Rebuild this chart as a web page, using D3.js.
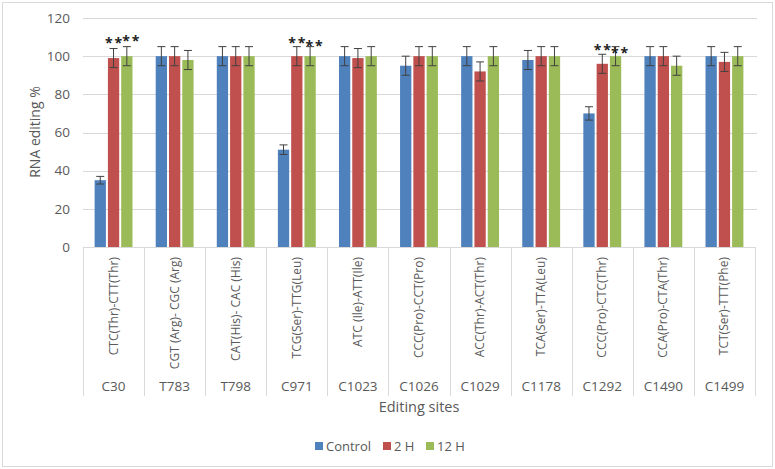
<!DOCTYPE html>
<html><head><meta charset="utf-8">
<script src="https://cdn.jsdelivr.net/npm/d3@7"></script>
<style>body{margin:0;background:#fff}svg{display:block}text{font-family:"Open Sans",Calibri,sans-serif;fill:#595959}</style>
</head><body><svg id="c" width="775" height="469"></svg>
<script>
const sites = ["C30","T783","T798","C971","C1023","C1026","C1029","C1178","C1292","C1490","C1499"];
const codons = ["CTC(Thr)-CTT(Thr)","CGT (Arg)- CGC (Arg)","CAT(His)- CAC (His)","TCG(Ser)-TTG(Leu)","ATC (Ile)-ATT(Ile)","CCC(Pro)-CCT(Pro)","ACC(Thr)-ACT(Thr)","TCA(Ser)-TTA(Leu)","CCC(Pro)-CTC(Thr)","CCA(Pro)-CTA(Thr)","TCT(Ser)-TTT(Phe)"];
const seriesNames = ["Control","2 H","12 H"];
const control = [35,100,100,51,100,95,100,98,70,100,100];
const h2 = [99,100,100,100,99,100,92,100,96,100,97];
const h12 = [100,98,100,100,100,100,100,100,100,95,100];
const controlErr = [2,5,5,2.5,5,5,5,5,3.5,5,5];
const h2Err = [5,5,5,5,5,5,5,5,5,5,5];
const h12Err = [5,5,5,5,5,5,5,5,5,5,5];
const yTicks = [0,20,40,60,80,100,120];
// significance marks: [site, series, y value of mark]
const stars = [["C30","2 H",108.4],["C30","12 H",109.5],["C971","2 H",108.4],["C971","12 H",106.8],["C1292","2 H",104.7],["C1292","12 H",103.1]];

const colors = ["#4f81bd","#c0504d","#9bbb59"];
const values = [control,h2,h12], errs=[controlErr,h2Err,h12Err];

const svg = d3.select("#c");
svg.append("rect").attr("x",2.5).attr("y",2.5).attr("width",770).attr("height",464).attr("fill","#fff").attr("stroke","#d9d9d9");

const L=83,R=755,T=18,B=247;
const x0 = d3.scaleBand().domain(sites).range([L,R]).paddingInner(0).paddingOuter(0);
const cw = x0.bandwidth();
const x1 = d3.scaleBand().domain(seriesNames).range([cw*0.19, cw*0.81]).paddingInner(0.15);
const y = d3.scaleLinear().domain([0,120]).range([B,T]);

// grid
svg.append("g").selectAll("line").data(yTicks.filter(d=>d>0)).join("line")
 .attr("x1",L).attr("x2",R+2).attr("y1",d=>Math.round(y(d))+0.5).attr("y2",d=>Math.round(y(d))+0.5)
 .attr("stroke","#d9d9d9");
// y labels
svg.append("g").selectAll("text").data(yTicks).join("text")
 .attr("x",70).attr("y",d=>y(d)).attr("dy","0.35em").attr("text-anchor","end").attr("font-size",13.5).text(d=>d);

// category separators
const bounds = sites.map(s=>x0(s)).concat([R]);
svg.append("g").selectAll("line").data(bounds).join("line")
 .attr("x1",d=>Math.round(d)+0.5).attr("x2",d=>Math.round(d)+0.5).attr("y1",B).attr("y2",396).attr("stroke","#d9d9d9");
svg.append("line").attr("x1",L).attr("x2",R).attr("y1",B+0.5).attr("y2",B+0.5).attr("stroke","#d9d9d9");

// bars
const g = svg.append("g");
seriesNames.forEach((s,si)=>{
  const gs = g.append("g");
  gs.selectAll("rect").data(sites).join("rect")
   .attr("x",(d)=>x0(d)+x1(s)).attr("width",x1.bandwidth())
   .attr("y",(d,i)=>y(values[si][i])).attr("height",(d,i)=>B-y(values[si][i]))
   .attr("fill",colors[si]);
  const eg = svg.append("g").attr("stroke","#404040").attr("stroke-width",1);
  sites.forEach((d,i)=>{
    const cx = x0(d)+x1(s)+x1.bandwidth()/2;
    const v=values[si][i], e=errs[si][i];
    const y1=y(v+e), y2=y(v-e);
    eg.append("line").attr("x1",cx).attr("x2",cx).attr("y1",y1).attr("y2",y2);
    eg.append("line").attr("x1",cx-4).attr("x2",cx+4).attr("y1",y1).attr("y2",y1);
    eg.append("line").attr("x1",cx-4).attr("x2",cx+4).attr("y1",y2).attr("y2",y2);
  });
});

// stars
svg.append("g").selectAll("text").data(stars).join("text")
 .attr("x",d=>x0(d[0])+x1(d[1])+x1.bandwidth()/2 + (d[1]==="12 H"?5:1))
 .attr("y",d=>y(d[2])+8).attr("text-anchor","middle").attr("font-size",14).attr("font-weight","bold")
 .attr("letter-spacing",2)
 .style("fill","#222").text("**");

// codon labels
svg.append("g").selectAll("text").data(codons).join("text")
 .attr("transform",(d,i)=>`translate(${x0(sites[i])+cw/2+4},257) rotate(-90)`)
 .attr("text-anchor","end").attr("font-size",12).text(d=>d);
// site labels
svg.append("g").selectAll("text").data(sites).join("text")
 .attr("x",d=>x0(d)+cw/2).attr("y",386).attr("dy","0.35em").attr("text-anchor","middle").attr("font-size",13.5).text(d=>d);

// axis titles
svg.append("text").attr("x",(L+R)/2).attr("y",407).attr("dy","0.35em").attr("text-anchor","middle").attr("font-size",14.5).text("Editing sites");
svg.append("text").attr("transform","translate(35,132) rotate(-90)").attr("dy","0.35em").attr("text-anchor","middle").attr("font-size",14).text("RNA editing %");

// legend
const lx=[315,383,426];
const lg = svg.append("g");
seriesNames.forEach((s,i)=>{
  lg.append("rect").attr("x",lx[i]).attr("y",442).attr("width",8).attr("height",8).attr("fill",colors[i]);
  lg.append("text").attr("x",lx[i]+11).attr("y",446).attr("dy","0.35em").attr("font-size",13).text(s);
});
</script></body></html>
